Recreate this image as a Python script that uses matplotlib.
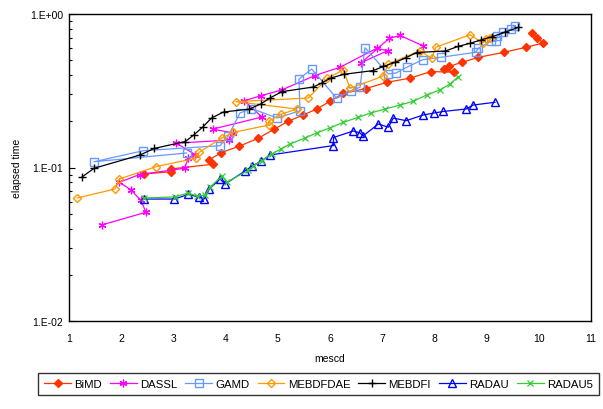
import matplotlib
matplotlib.use("Agg")
import matplotlib.pyplot as plt
from matplotlib.ticker import LogLocator, NullFormatter, FixedLocator

plt.rcParams['font.family'] = ['Liberation Sans', 'DejaVu Sans']

bimd_x = [2.437, 2.948, 2.948, 3.753, 3.688, 3.921, 4.262, 4.626, 4.927, 5.201, 5.492, 5.751, 6.0, 6.249,
          6.69, 7.092, 7.533, 7.935, 8.385, 8.184, 8.286, 8.523, 8.841, 9.333, 9.755, 10.086, 9.971, 9.875]
bimd_y = [0.0907, 0.0939, 0.0978, 0.105, 0.1124, 0.1252, 0.1377, 0.155, 0.1774, 0.200, 0.2205, 0.2405, 0.270, 0.3035,
          0.327, 0.359, 0.382, 0.422, 0.417, 0.435, 0.456, 0.484, 0.522, 0.563, 0.607, 0.647, 0.698, 0.752]

dassl_x = [1.623, 2.475, 2.379, 2.188, 1.967, 2.351, 3.213, 3.285, 3.414, 3.059, 4.071, 4.136, 3.759, 4.697,
           4.358, 4.678, 5.075, 5.713, 6.192, 6.895, 7.105, 6.603, 7.136, 7.341, 7.791]
dassl_y = [0.0422, 0.0511, 0.0610, 0.0714, 0.0801, 0.090, 0.0988, 0.1148, 0.1215, 0.144, 0.151, 0.168, 0.178, 0.2133,
           0.2723, 0.2937, 0.320, 0.3975, 0.4497, 0.5977, 0.5768, 0.483, 0.6945, 0.7244, 0.619]

gamd_x = [3.251, 1.479, 2.418, 3.893, 4.052, 4.276, 4.496, 4.990, 5.425, 5.406, 5.649, 6.128, 6.397, 6.575,
          6.670, 7.117, 7.264, 7.469, 7.776, 8.117, 8.791, 8.841, 9.079, 9.180, 9.205, 9.320, 9.462, 9.544]
gamd_y = [0.1243, 0.109, 0.1286, 0.1387, 0.161, 0.2265, 0.2423, 0.210, 0.2344, 0.377, 0.438, 0.2823, 0.3165, 0.333,
          0.6033, 0.4066, 0.4128, 0.4497, 0.504, 0.522, 0.563, 0.598, 0.664, 0.664, 0.716, 0.760, 0.798, 0.839]

mebdfdae_x = [1.159, 1.881, 1.967, 2.676, 3.433, 3.496, 3.925, 4.148, 4.831, 4.831, 5.052, 5.362, 4.199, 5.584,
              5.948, 6.255, 6.383, 7.010, 7.117, 7.724, 7.948, 8.025, 8.682, 8.925, 8.989, 9.065]
mebdfdae_y = [0.0633, 0.0724, 0.0842, 0.1015, 0.1148, 0.1256, 0.1557, 0.1695, 0.189, 0.201, 0.2215, 0.2405, 0.2684, 0.2836,
              0.381, 0.4318, 0.328, 0.3928, 0.472, 0.5768, 0.5145, 0.607, 0.733, 0.647, 0.687, 0.698]

mebdfi_x = [1.24, 1.48, 2.36, 2.63, 3.23, 3.39, 3.56, 3.73, 3.96, 4.45, 4.67, 4.86, 5.08, 5.68, 5.84, 6.02, 6.27,
            6.83, 7.02, 7.25, 7.45, 7.66, 8.21, 8.46, 8.68, 8.89, 9.10, 9.35, 9.61]
mebdfi_y = [0.0863, 0.0988, 0.1206, 0.133, 0.1477, 0.163, 0.183, 0.210, 0.230, 0.240, 0.259, 0.285, 0.312, 0.3345,
            0.355, 0.383, 0.405, 0.428, 0.455, 0.484, 0.518, 0.561, 0.574, 0.616, 0.644, 0.677, 0.711, 0.760, 0.819]

radau_x = [2.437, 3.021, 3.280, 3.490, 3.586, 3.688, 3.893, 3.989, 4.372, 4.506, 4.678, 4.851, 6.067, 6.067,
           6.446, 6.575, 6.632, 6.925, 7.117, 7.213, 7.456, 7.787, 7.992, 8.170, 8.605, 8.745, 9.161]
radau_y = [0.0623, 0.0623, 0.0667, 0.0643, 0.0623, 0.0724, 0.0842, 0.078, 0.0949, 0.102, 0.110, 0.1206, 0.139, 0.1568,
           0.173, 0.168, 0.1604, 0.192, 0.183, 0.210, 0.2018, 0.2198, 0.2265, 0.2317, 0.2405, 0.2553, 0.266]

radau5_x = [2.437, 3.031, 3.280, 3.452, 3.605, 3.701, 3.931, 4.027, 4.429, 4.531, 4.692, 4.883, 5.061, 5.234,
            5.521, 5.745, 6.0, 6.255, 6.542, 6.780, 7.054, 7.341, 7.596, 7.852, 8.107, 8.299, 8.458]
radau5_y = [0.0633, 0.0643, 0.0682, 0.0652, 0.0662, 0.0746, 0.088, 0.0804, 0.0956, 0.102, 0.1107, 0.1225, 0.132, 0.1423,
            0.1557, 0.168, 0.181, 0.197, 0.2123, 0.2265, 0.2405, 0.2553, 0.270, 0.2968, 0.320, 0.350, 0.3905]

x_ticks = [1, 2, 3, 4, 5, 6, 7, 8, 9, 10, 11]
y_ticks = [0.01, 0.1, 1.0]
y_tick_labels = ["1.E-02", "1.E-01", "1.E+00"]

fig = plt.figure(figsize=(6.03, 4.10), dpi=100)
ax = fig.add_axes([69/603, 1-322/410, (591-69)/603, (322-15)/410])

lw = 0.9
series = [
    ("BiMD", bimd_x, bimd_y, dict(color="#FF3300", marker="D", markersize=4.5, markerfacecolor="#FF3300")),
    ("DASSL", dassl_x, dassl_y, dict(color="#FF00FF", marker=(6, 2, 0), markersize=5.5, markeredgewidth=0.9)),
    ("GAMD", gamd_x, gamd_y, dict(color="#6699FF", marker="s", markersize=5.5, markerfacecolor="none", markeredgewidth=1.0)),
    ("MEBDFDAE", mebdfdae_x, mebdfdae_y, dict(color="#FF9900", marker="D", markersize=4.5, markerfacecolor="none", markeredgewidth=1.0)),
    ("MEBDFI", mebdfi_x, mebdfi_y, dict(color="black", marker="+", markersize=6, markeredgewidth=1.0)),
    ("RADAU", radau_x, radau_y, dict(color="#0000FF", marker="^", markersize=5.5, markerfacecolor="none", markeredgewidth=1.0)),
    ("RADAU5", radau5_x, radau5_y, dict(color="#33CC33", marker="x", markersize=4, markeredgewidth=0.9)),
]
handles = []
for name, xs, ys, st in series:
    h, = ax.plot(xs, ys, label=name, linewidth=lw, **st)
    handles.append(h)

ax.set_yscale("log")
ax.set_xlim(1, 11)
ax.set_ylim(0.01, 1.0)
ax.xaxis.set_major_locator(FixedLocator(x_ticks))
ax.set_xticklabels([str(t) for t in x_ticks])
ax.set_yticks(y_ticks)
ax.set_yticklabels(y_tick_labels)
ax.yaxis.set_minor_locator(LogLocator(base=10, subs=range(2, 10)))
ax.yaxis.set_minor_formatter(NullFormatter())
ax.tick_params(axis="both", which="both", direction="in", labelsize=7.5, width=0.8)
ax.tick_params(axis="y", which="major", length=4, pad=4)
ax.tick_params(axis="y", which="minor", length=2.5)
ax.tick_params(axis="x", which="major", length=0, pad=9)
for s in ax.spines.values():
    s.set_linewidth(1.0)
    s.set_color("black")

ax.set_xlabel("mescd", fontsize=7.5, labelpad=7)
ax.set_ylabel("elapsed time", fontsize=7.5, labelpad=6)

leg = fig.legend(handles=handles, loc="center", bbox_to_anchor=(318.5/603, 1-385/410), ncol=7, fontsize=8.2,
                 frameon=True, fancybox=False, edgecolor="black", handlelength=2.35, handletextpad=0.3,
                 columnspacing=0.7, borderpad=0.55, borderaxespad=0)
leg.get_frame().set_linewidth(1.0)

fig.savefig("out.png", dpi=100)
